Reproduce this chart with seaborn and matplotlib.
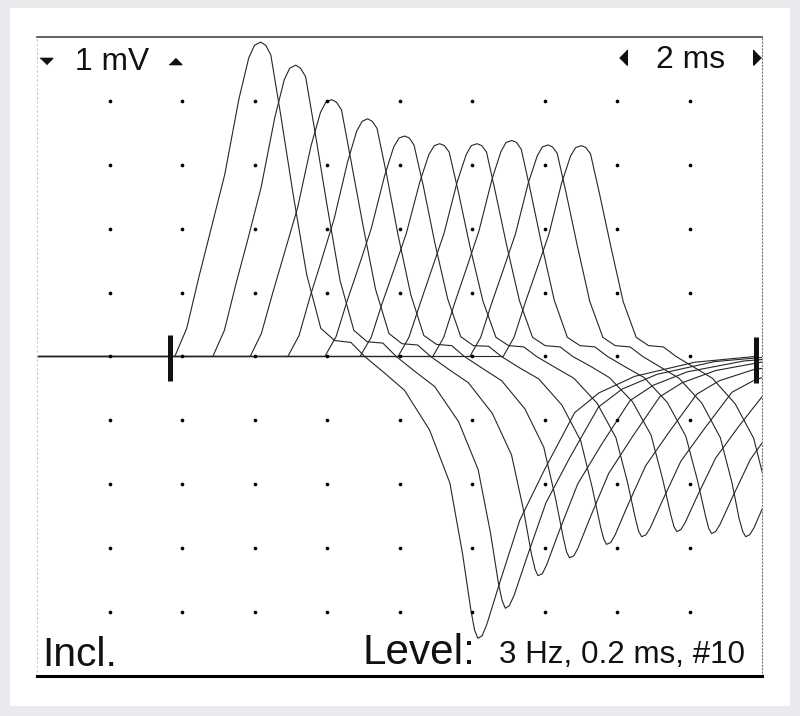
import numpy as np
import pandas as pd
import matplotlib

matplotlib.use("Agg")
import matplotlib.pyplot as plt
import seaborn as sns
from matplotlib import font_manager
from matplotlib.patches import Rectangle

# ---- traces: time (ms) / voltage (mV) ----
t1 = [0, 3.80, 4.13, 4.46, 4.79, 5.18, 5.57, 5.84, 6.00, 6.17, 6.31, 6.45, 6.72, 7.06, 7.44, 7.83, 8.21, 8.66,
      9.04, 9.59, 10.14, 10.83, 11.39, 11.74, 11.97, 12.07, 12.16, 12.28, 12.41, 12.77, 13.32, 14.01, 14.83,
      15.50, 16.49, 18.14, 19.80]
v1 = [0, 0, 0.44, 1.23, 1.97, 2.85, 4.03, 4.67, 4.87, 4.92, 4.87, 4.72, 3.79, 2.56, 1.28, 0.44, 0.25, 0.22,
      0, -0.26, -0.53, -1.15, -1.98, -3.09, -3.97, -4.28, -4.41, -4.37, -4.19, -3.53, -2.56, -1.76, -0.88,
      -0.57, -0.31, -0.09, 0]

t2 = [0, 4.85, 5.17, 5.49, 5.81, 6.18, 6.56, 6.82, 6.97, 7.14, 7.27, 7.41, 7.67, 8.00, 8.36, 8.74, 9.11, 9.54,
      9.91, 10.44, 10.97, 11.63, 12.17, 12.51, 12.73, 12.83, 12.92, 13.03, 13.16, 13.51, 14.04, 14.70, 15.49,
      16.14, 17.10, 18.69, 20.29]
v2 = [0, 0, 0.41, 1.14, 1.82, 2.64, 3.74, 4.33, 4.51, 4.56, 4.51, 4.38, 3.51, 2.37, 1.19, 0.41, 0.23, 0.21,
      0, -0.24, -0.47, -1.02, -1.77, -2.76, -3.55, -3.82, -3.94, -3.90, -3.74, -3.15, -2.29, -1.58, -0.79,
      -0.51, -0.28, -0.08, 0]

t3 = [0, 5.88, 6.19, 6.51, 6.82, 7.19, 7.56, 7.82, 7.97, 8.13, 8.26, 8.40, 8.65, 8.98, 9.34, 9.71, 10.07, 10.50,
      10.86, 11.38, 11.90, 12.56, 13.09, 13.42, 13.64, 13.74, 13.82, 13.94, 14.06, 14.40, 14.92, 15.58, 16.36,
      17.00, 17.94, 19.50, 21.08]
v3 = [0, 0, 0.36, 1.01, 1.61, 2.33, 3.30, 3.82, 3.98, 4.02, 3.98, 3.86, 3.10, 2.09, 1.05, 0.36, 0.20, 0.18,
      0, -0.21, -0.41, -0.89, -1.54, -2.40, -3.09, -3.33, -3.43, -3.40, -3.26, -2.74, -1.99, -1.37, -0.69,
      -0.45, -0.24, -0.07, 0]

t4 = [0, 6.92, 7.23, 7.53, 7.84, 8.20, 8.57, 8.82, 8.97, 9.12, 9.25, 9.38, 9.64, 9.95, 10.31, 10.67, 11.02, 11.44,
      11.79, 12.30, 12.82, 13.46, 13.98, 14.30, 14.52, 14.61, 14.69, 14.81, 14.93, 15.26, 15.77, 16.42, 17.18,
      17.80, 18.72, 20.26, 21.80]
v4 = [0, 0, 0.33, 0.93, 1.49, 2.16, 3.05, 3.53, 3.68, 3.72, 3.68, 3.57, 2.86, 1.93, 0.97, 0.33, 0.19, 0.17,
      0, -0.19, -0.38, -0.82, -1.42, -2.21, -2.84, -3.06, -3.15, -3.12, -2.99, -2.52, -1.83, -1.26, -0.63,
      -0.41, -0.22, -0.06, 0]

t5 = [0, 7.94, 8.25, 8.55, 8.86, 9.22, 9.59, 9.84, 9.99, 10.14, 10.27, 10.40, 10.66, 10.97, 11.33, 11.69, 12.04,
      12.46, 12.81, 13.32, 13.84, 14.48, 15.00, 15.32, 15.54, 15.63, 15.71, 15.83, 15.95, 16.28, 16.79, 17.44,
      18.20, 18.82, 19.74, 21.28, 22.82]
v5 = [0, 0, 0.31, 0.86, 1.38, 2.00, 2.83, 3.28, 3.42, 3.45, 3.42, 3.31, 2.66, 1.79, 0.90, 0.31, 0.17, 0.16,
      0, -0.18, -0.35, -0.76, -1.32, -2.06, -2.65, -2.85, -2.94, -2.91, -2.79, -2.35, -1.71, -1.18, -0.59,
      -0.38, -0.21, -0.06, 0]

t6 = [0, 8.91, 9.22, 9.52, 9.83, 10.19, 10.56, 10.81, 10.96, 11.11, 11.24, 11.37, 11.63, 11.94, 12.30, 12.66,
      13.01, 13.43, 13.78, 14.29, 14.81, 15.45, 15.97, 16.29, 16.51, 16.60, 16.68, 16.80, 16.92, 17.25, 17.76,
      18.41, 19.17, 19.79, 20.71, 22.25, 23.79]
v6 = [0, 0, 0.30, 0.83, 1.33, 1.93, 2.73, 3.16, 3.30, 3.33, 3.30, 3.20, 2.56, 1.73, 0.87, 0.30, 0.17, 0.15,
      0, -0.17, -0.34, -0.73, -1.27, -1.97, -2.54, -2.74, -2.82, -2.79, -2.68, -2.26, -1.64, -1.13, -0.56,
      -0.37, -0.20, -0.06, 0]

t7 = [0, 9.96, 10.26, 10.57, 10.87, 11.23, 11.59, 11.84, 11.98, 12.14, 12.27, 12.40, 12.65, 12.96, 13.31, 13.67,
      14.02, 14.43, 14.78, 15.29, 15.79, 16.43, 16.94, 17.26, 17.48, 17.57, 17.65, 17.76, 17.88, 18.21, 18.72,
      19.35, 20.11]
v7 = [0, 0, 0.30, 0.83, 1.33, 1.93, 2.73, 3.16, 3.30, 3.33, 3.30, 3.20, 2.56, 1.73, 0.87, 0.30, 0.17, 0.15,
      0, -0.16, -0.33, -0.71, -1.23, -1.92, -2.47, -2.66, -2.74, -2.71, -2.60, -2.19, -1.59, -1.10, -0.55]

t8 = [0, 10.92, 11.22, 11.53, 11.83, 12.19, 12.55, 12.80, 12.94, 13.10, 13.23, 13.36, 13.61, 13.92, 14.27, 14.63,
      14.98, 15.39, 15.74, 16.25, 16.75, 17.39, 17.90, 18.22, 18.44, 18.53, 18.61, 18.72, 18.84, 19.17, 19.68,
      20.31]
v8 = [0, 0, 0.30, 0.85, 1.35, 1.96, 2.77, 3.21, 3.35, 3.38, 3.35, 3.24, 2.60, 1.76, 0.88, 0.30, 0.17, 0.15,
      0, -0.17, -0.33, -0.72, -1.25, -1.94, -2.49, -2.69, -2.77, -2.74, -2.63, -2.22, -1.61, -1.11]

t9 = [0, 11.94, 12.24, 12.54, 12.84, 13.20, 13.55, 13.80, 13.94, 14.10, 14.22, 14.35, 14.60, 14.91, 15.25, 15.61,
      15.95, 16.36, 16.71, 17.21, 17.71, 18.34, 18.85, 19.17, 19.37, 19.47, 19.55, 19.66, 19.78, 20.10]
v9 = [0, 0, 0.30, 0.83, 1.32, 1.92, 2.71, 3.14, 3.28, 3.31, 3.28, 3.18, 2.55, 1.72, 0.86, 0.30, 0.17, 0.15,
      0, -0.17, -0.34, -0.73, -1.27, -1.97, -2.54, -2.74, -2.82, -2.79, -2.68, -2.26]

t10 = [0, 12.86, 13.16, 13.46, 13.76, 14.12, 14.47, 14.72, 14.86, 15.02, 15.14, 15.27, 15.52, 15.83, 16.17,
       16.53, 16.87, 17.28, 17.63, 18.13, 18.63, 19.26, 19.77, 20.09]
v10 = [0, 0, 0.30, 0.83, 1.32, 1.91, 2.71, 3.14, 3.27, 3.30, 3.27, 3.17, 2.54, 1.72, 0.86, 0.30, 0.17, 0.15,
       0, -0.17, -0.34, -0.74, -1.28, -2.00]

times = [t1, t2, t3, t4, t5, t6, t7, t8, t9, t10]
volts = [v1, v2, v3, v4, v5, v6, v7, v8, v9, v10]

# screen grid (2 ms / div, 1 mV / div)
grid_ms = [2, 4, 6, 8, 10, 12, 14, 16, 18]
grid_mv = [-4, -3, -2, -1, 0, 1, 2, 3, 4]

# cursor markers (ms) and their extents (mV)
cursor_ms = [3.67, 19.83]
cursor_lo = [-0.38, -0.41]
cursor_hi = [0.34, 0.30]

rows = []
for i, (t, v) in enumerate(zip(times, volts)):
    for a, b in zip(t, v):
        rows.append({"trace": i + 1, "ms": a, "mV": b})
df = pd.DataFrame(rows)

# condensed face if there is one, else plain Liberation Sans
names = {f.name for f in font_manager.fontManager.ttflist}
FONT = ["Liberation Sans Narrow"] if "Liberation Sans Narrow" in names else ["Liberation Sans"]
FONT = FONT + ["DejaVu Sans"]

fig = plt.figure(figsize=(8, 7.16), dpi=100, facecolor="#e9eaed")
bg = fig.add_axes([0, 0, 1, 1], zorder=-5)
bg.axis("off")
bg.add_patch(Rectangle((10 / 800, 10 / 716), 780 / 800, 698 / 716, transform=bg.transAxes,
                       facecolor="white", edgecolor="none"))

ax = fig.add_axes([0.04625, 0.05587, 0.90625, 0.89246], zorder=1)
ax.set_facecolor("white")

sns.lineplot(data=df, x="ms", y="mV", units="trace", estimator=None, sort=False,
             color="#262626", linewidth=0.8, ax=ax)

gx, gy = np.meshgrid(grid_ms, grid_mv)
ax.scatter(gx.ravel(), gy.ravel(), s=7, c="black", marker="o", linewidths=0, zorder=3)

ax.vlines(cursor_ms, cursor_lo, cursor_hi, color="#111111", linewidth=3.6, zorder=4)

ax.set_xlim(0, 20)
ax.set_ylim(-5, 5)
ax.set_xticks([])
ax.set_yticks([])
ax.set_xlabel("")
ax.set_ylabel("")

ax.spines["top"].set_color("#555555")
ax.spines["top"].set_linewidth(1.3)
ax.spines["bottom"].set_color("black")
ax.spines["bottom"].set_linewidth(2.2)
ax.spines["left"].set_color("#c8c8c8")
ax.spines["left"].set_linestyle((0, (1, 3)))
ax.spines["left"].set_linewidth(0.8)
ax.spines["right"].set_color("#777777")
ax.spines["right"].set_linestyle((0, (1, 2)))
ax.spines["right"].set_linewidth(0.8)

# little arrows around the scale labels
ax.plot(0.26, 4.63, marker=[(-1, 0.5), (1, 0.5), (0, -0.5)], ms=9, color="#111111", clip_on=False)
ax.plot(3.81, 4.63, marker=[(-1, -0.5), (1, -0.5), (0, 0.5)], ms=9, color="#111111", clip_on=False)
ax.plot(16.17, 4.69, marker=[(0.5, 1), (0.5, -1), (-0.5, 0)], ms=11, color="#111111", clip_on=False)
ax.plot(19.86, 4.69, marker=[(-0.5, 1), (-0.5, -1), (0.5, 0)], ms=11, color="#111111", clip_on=False)

# labels: (x ms, baseline mV, text, width in px on screen, max size)
labels = [
    (1.05, 4.48, "1 mV", 74, 30),
    (17.08, 4.51, "2 ms", 69, 30),
    (0.14, -4.85, "Incl.", 75, 33),
    (8.97, -4.82, "Level:", 113, 33),
    (12.75, -4.80, "3 Hz, 0.2 ms, #10", 246, 30),
]
texts = []
for x, y, s, w, fs in labels:
    texts.append((ax.text(x, y, s, fontsize=fs, family=FONT, va="baseline", ha="left",
                          color="#111111"), w, fs))
fig.canvas.draw()
renderer = fig.canvas.get_renderer()
for t, w, fs in texts:
    cur = t.get_window_extent(renderer).width
    t.set_fontsize(min(fs, fs * w / cur))

fig.savefig("out.png", dpi=100, facecolor=fig.get_facecolor())
